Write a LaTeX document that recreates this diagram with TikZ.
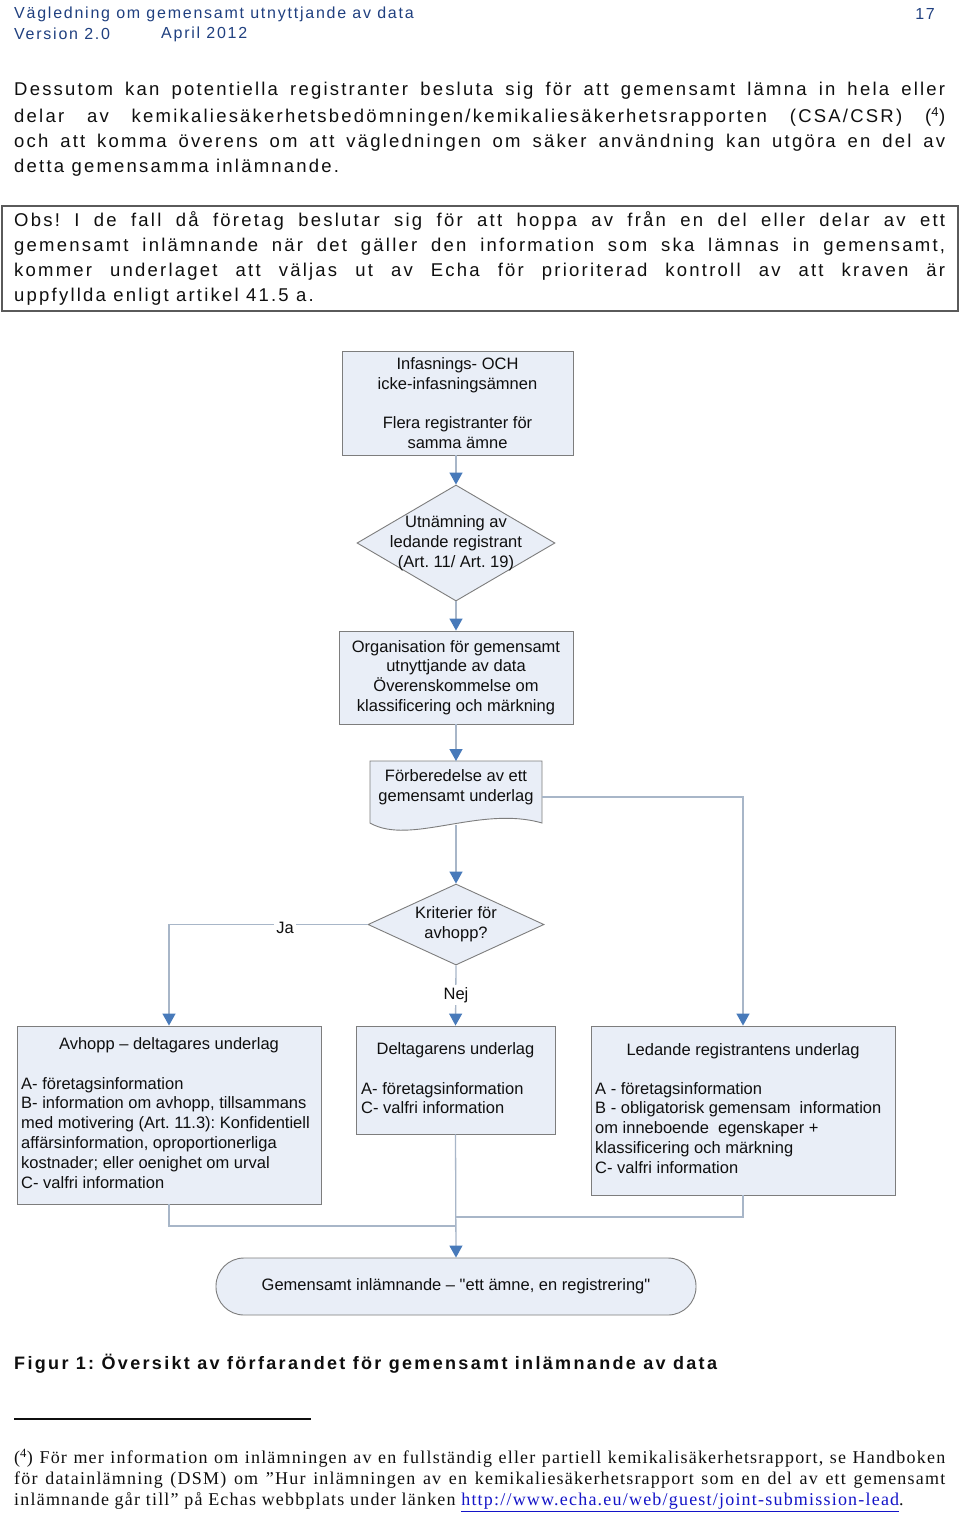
\documentclass[tikz,border=0pt]{standalone}
\usepackage{fontspec}
\setmainfont{Liberation Sans}
\newfontfamily\trackfont[LetterSpace=12]{Liberation Sans}
\newfontfamily\headfont[LetterSpace=11]{Liberation Sans}
\newfontfamily\capfont[LetterSpace=13]{Liberation Sans}
\newfontfamily\serfont[LetterSpace=6.7]{Liberation Serif}
\newfontfamily\quotefont[Ligatures=ResetAll]{Liberation Sans}
\usetikzlibrary{arrows.meta,shapes.geometric}
\definecolor{boxfill}{RGB}{233,238,247}
\definecolor{boxdraw}{RGB}{125,125,125}
\definecolor{obsdraw}{RGB}{90,90,90}
\definecolor{linegray}{RGB}{168,182,200}
\definecolor{arrowblue}{RGB}{72,122,186}
\definecolor{headblue}{RGB}{32,64,128}
\definecolor{textblack}{RGB}{15,15,15}
\definecolor{linkblue}{RGB}{20,20,200}
\newcommand\jline[1]{\makebox[931pt][s]{#1}}
\newcommand\dfont{\fontsize{16.5}{19.8}\selectfont}
\newcommand\sq{\mbox{\quotefont\char34}}
\frenchspacing
\begin{document}
\begin{tikzpicture}[x=1pt,y=-1pt,
  every node/.style={inner sep=0pt, text=textblack},
  bodyline/.style={anchor=west, font=\trackfont\fontsize{18.5}{22}\selectfont},
  headline/.style={anchor=west, font=\headfont\fontsize{16}{19}\selectfont, text=headblue},
  footline/.style={anchor=west, font=\serfont\fontsize{18}{21}\selectfont},
  procbox/.style={draw=boxdraw, fill=boxfill, line width=0.9pt, rectangle},
  decbox/.style={draw=boxdraw, fill=boxfill, line width=0.9pt, diamond},
  dtext/.style={font=\dfont, align=center},
  ltext/.style={font=\dfont, align=left, anchor=north west},
  conn/.style={draw=linegray, line width=1.3pt},
  arr/.style={conn, -{Triangle[width=13pt,length=12pt,color=arrowblue]}},
  lab/.style={font=\dfont, fill=white, inner sep=2pt},
]
\useasboundingbox[fill=white] (0,0) rectangle (960,1516);

% header
\node[headline] (h1) at (14,14) {Vägledning om gemensamt utnyttjande av data};
\node[headline] (h2) at (14,34) {Version 2.0};
\node[headline] (h3) at (161,34) {April 2012};
\node[headline, anchor=east] (h4) at (935,14) {17};

% body paragraph
\node[bodyline] (p1) at (14,91) {\jline{Dessutom kan potentiella registranter besluta sig för att gemensamt lämna in hela eller}};
\node[bodyline] (p2) at (14,117) {\jline{delar av kemikaliesäkerhetsbedömningen/kemikaliesäkerhetsrapporten (CSA/CSR) (\textsuperscript{4})}};
\node[bodyline] (p3) at (14,143) {\jline{och att komma överens om att vägledningen om säker användning kan utgöra en del av}};
\node[bodyline] (p4) at (14,168) {detta gemensamma inlämnande.};

% Obs box
\node[draw=obsdraw, line width=1.3pt, minimum width=956pt, minimum height=105pt] (obs) at (480,258.5) {};
\node[bodyline] (o1) at (14,221) {\jline{Obs! I de fall då företag beslutar sig för att hoppa av från en del eller delar av ett}};
\node[bodyline] (o2) at (14,247) {\jline{gemensamt inlämnande när det gäller den information som ska lämnas in gemensamt,}};
\node[bodyline] (o3) at (14,272) {\jline{kommer underlaget att väljas ut av Echa för prioriterad kontroll av att kraven är}};
\node[bodyline] (o4) at (14,297) {uppfyllda enligt artikel 41.5 a.};

% flowchart
\node[procbox, dtext, minimum width=231pt, minimum height=104pt] (start) at (457.5,403)
  {Infasnings- OCH\\icke-infasningsämnen\\[19.8pt]Flera registranter för\\samma ämne};
\node[decbox, minimum width=198pt, minimum height=116pt] (lead) at (456,543) {};
\node[dtext] (leadtxt) at (456,543) {Utnämning av\\ledande registrant\\(Art. 11/ Art. 19)};
\node[procbox, dtext, minimum width=234pt, minimum height=93pt] (org) at (456,677.5)
  {Organisation för gemensamt\\utnyttjande av data\\Överenskommelse om\\klassificering och märkning};

\draw[draw=boxdraw, fill=boxfill, line width=0.9pt] (370,761) -- (542,761) -- (542,823)
  .. controls (480,805) and (410,846) .. (370,823) -- cycle;
\node[dtext] (prep) at (456,787) {Förberedelse av ett\\gemensamt underlag};
\coordinate (docT) at (456,761);
\coordinate (docR) at (542,797);
\coordinate (docB) at (456,825);

\node[decbox, minimum width=176pt, minimum height=81pt] (crit) at (456,924.5) {};
\node[dtext] (crittxt) at (456,924) {Kriterier för\\avhopp?};

\node[procbox, minimum width=304pt, minimum height=178pt] (avh) at (169,1115) {};
\node[dtext] (avht) at (169,1045) {Avhopp – deltagares underlag};
\node[ltext] (avhl) at (21,1077) {A- företagsinformation\\B- information om avhopp, tillsammans\\med motivering (Art. 11.3): Konfidentiell\\affärsinformation, oproportionerliga\\kostnader; eller oenighet om urval\\C- valfri information};

\node[procbox, minimum width=199pt, minimum height=108pt] (del) at (455.5,1080) {};
\node[dtext] (delt) at (455.5,1050) {Deltagarens underlag};
\node[ltext] (dell) at (361,1082) {A- företagsinformation\\C- valfri information};

\node[procbox, minimum width=304pt, minimum height=169pt] (led) at (743,1110.5) {};
\node[dtext] (ledt) at (743,1051) {Ledande registrantens underlag};
\node[ltext] (ledl) at (595,1082) {A - företagsinformation\\B - obligatorisk gemensam\ \ information\\om inneboende\ \ egenskaper +\\klassificering och märkning\\C- valfri information};

\node[procbox, dtext, rounded corners=28pt, minimum width=480pt, minimum height=57pt] (end) at (456,1286.5)
  {Gemensamt inlämnande – \sq ett ämne, en registrering\sq};

% connectors
\draw[arr] (start.south -| lead.north) -- (lead.north);
\draw[arr] (lead.south) -- (org.north);
\draw[arr] (org.south) -- (docT);
\draw[arr] (docB) -- (crit.north);
\draw[arr] (docR) -| (led.north);
\draw[arr] (crit.west) -| (avh.north);
\draw[arr] (crit.south) -- (del.north);
\node[lab] (ja) at (285,928) {Ja};
\node[lab] (nej) at (456,995) {Nej};
\coordinate (mergeA) at (456,1226);
\coordinate (mergeB) at (456,1217);
\draw[conn] (avh.south) |- (mergeA);
\draw[conn] (led.south) |- (mergeB);
\draw[arr] (del.south) -- (end.north);

% caption
\node[anchor=west, font=\capfont\bfseries\fontsize{18}{21}\selectfont] (cap) at (14,1364)
  {Figur 1: Översikt av förfarandet för gemensamt inlämnande av data};
\draw[line width=1.5pt, textblack] (14,1419) -- (311,1419);

% footnote
\node[footline] (f1) at (14,1458) {\jline{(\textsuperscript{4}) För mer information om inlämningen av en fullständig eller partiell kemikalisäkerhetsrapport, se Handboken}};
\node[footline] (f2) at (14,1480) {\jline{för datainlämning (DSM) om ”Hur inlämningen av en kemikaliesäkerhetsrapport som en del av ett gemensamt}};
\node[footline] (f3) at (14,1502) {inlämnande går till” på Echas webbplats under länken \textcolor{linkblue}{\underline{http://www.echa.eu/web/guest/joint-submission-lead}}.};
\end{tikzpicture}
\end{document}
